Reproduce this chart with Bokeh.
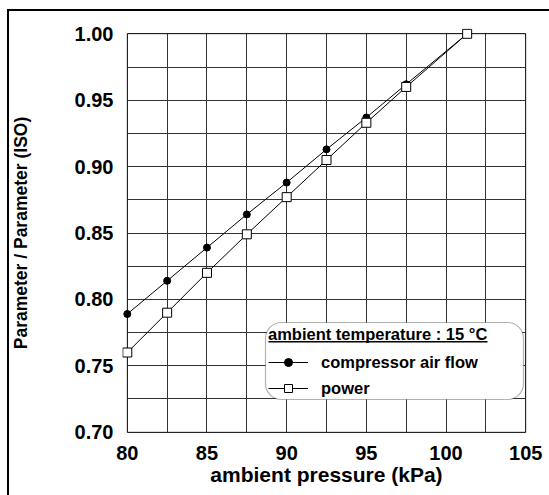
from bokeh.plotting import figure
from bokeh.models import (Legend, LegendItem, SingleIntervalTicker, FixedTicker,
                          BoxAnnotation, NumeralTickFormatter)
from bokeh.embed import file_html
from bokeh.resources import INLINE

# ---- data ----
pressure = [80, 82.5, 85, 87.5, 90, 92.5, 95, 97.5, 101.325]
air_flow = [0.789, 0.814, 0.839, 0.864, 0.888, 0.913, 0.937, 0.962, 1.000]
power = [0.760, 0.790, 0.820, 0.849, 0.877, 0.905, 0.933, 0.960, 1.000]
x_ticks = [80, 85, 90, 95, 100, 105]
y_ticks = [0.70, 0.75, 0.80, 0.85, 0.90, 0.95, 1.00]
x_limits = (80, 105)
y_limits = (0.70, 1.00)
legend_title = "ambient temperature : 15 °C"
series_labels = ["compressor air flow", "power"]
x_title = "ambient pressure (kPa)"
y_title = "Parameter / Parameter (ISO)"

FONT = "Liberation Sans"
XPAD, YPAD = 0.3, 0.004   # room so end markers are not clipped

p = figure(width=549, height=495,
           x_range=(x_limits[0] - XPAD, x_limits[1] + XPAD),
           y_range=(y_limits[0] - YPAD, y_limits[1] + YPAD),
           output_backend="svg", toolbar_location=None,
           min_border_left=122, min_border_right=19, min_border_top=28,
           min_border_bottom=58,
           border_fill_color=None, background_fill_color=None,
           styles={"background": "linear-gradient(#000,#000) 7px 9px / 2px 100% no-repeat, "
                                 "linear-gradient(#000,#000) 7px 9px / 100% 2px no-repeat"})

p.outline_line_color = None

# grid (kept inside the data box)
p.xgrid.ticker = SingleIntervalTicker(interval=2.5, num_minor_ticks=0)
p.ygrid.ticker = SingleIntervalTicker(interval=0.025, num_minor_ticks=0)
p.xgrid.cross_bounds = y_limits
p.ygrid.cross_bounds = x_limits
for g in (p.xgrid, p.ygrid):
    g.grid_line_color = "#333333"
    g.grid_line_width = 1

# plot frame box in data space
frame = BoxAnnotation(left=x_limits[0], right=x_limits[1],
                      bottom=y_limits[0], top=y_limits[1],
                      fill_color="white", fill_alpha=0,
                      line_color="black", line_width=1.5, level="underlay")
p.add_layout(frame)

# axes
p.xaxis.ticker = FixedTicker(ticks=x_ticks)
p.yaxis.ticker = FixedTicker(ticks=y_ticks)
p.yaxis.formatter = NumeralTickFormatter(format="0.00")
for ax in (p.xaxis, p.yaxis):
    ax.axis_line_color = None
    ax.major_tick_line_color = None
    ax.minor_tick_line_color = None
    ax.major_label_text_font = FONT
    ax.major_label_text_font_style = "bold"
    ax.major_label_text_font_size = "20px"
    ax.major_label_text_color = "black"
    ax.axis_label_text_font = FONT
    ax.axis_label_text_font_style = "bold"
    ax.axis_label_text_color = "black"

p.xaxis.axis_label = x_title
p.xaxis.axis_label_text_font_size = "21px"
p.xaxis.major_label_standoff = 2
p.xaxis.axis_label_standoff = 0

p.yaxis.axis_label = y_title
p.yaxis.axis_label_text_font_size = "17.5px"
p.yaxis.major_label_standoff = 3
p.yaxis.axis_label_standoff = 41

# series
l1 = p.line(pressure, air_flow, line_color="black", line_width=1)
l2 = p.line(pressure, power, line_color="black", line_width=1)
m1 = p.scatter(pressure, air_flow, marker="circle", size=7,
               fill_color="black", line_color="black")
m2 = p.scatter(pressure, power, marker="square", size=9,
               fill_color="white", line_color="black", line_width=1)

# legend panel (rounded white box) and title underline
panel = BoxAnnotation(left=265, right=523, top=322, bottom=399,
                      left_units="canvas", right_units="canvas",
                      top_units="canvas", bottom_units="canvas",
                      fill_color="white", fill_alpha=1,
                      line_color="black", line_width=1.2,
                      border_radius=16, level="annotation")
p.add_layout(panel)
underline = BoxAnnotation(left=268, right=487, top=340.5, bottom=342,
                          left_units="canvas", right_units="canvas",
                          top_units="canvas", bottom_units="canvas",
                          fill_color="black", fill_alpha=1, line_color=None,
                          level="annotation")
p.add_layout(underline)

legend = Legend(
    items=[LegendItem(label=series_labels[0], renderers=[l1, m1]),
           LegendItem(label=series_labels[1], renderers=[l2, m2])],
    location=(146, 39),
    title=legend_title,
    title_text_font=FONT, title_text_font_style="bold",
    title_text_font_size="16.5px", title_text_color="black",
    title_standoff=8,
    label_text_font=FONT, label_text_font_style="bold",
    label_text_font_size="16.5px", label_text_color="black",
    glyph_width=40, glyph_height=20, label_height=20, label_width=190,
    label_standoff=13, spacing=6, padding=0, margin=0,
    border_line_color=None, background_fill_alpha=0,
)
p.add_layout(legend)

open("out.html", "w").write(file_html(p, INLINE))
